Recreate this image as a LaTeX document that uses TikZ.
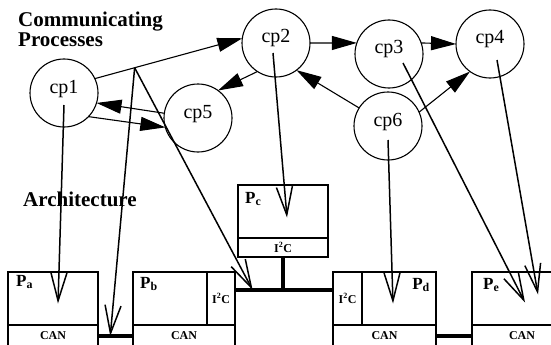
\documentclass[tikz,border=0pt]{standalone}
\usepackage{fontspec}
\setmainfont{Liberation Serif}
\usepackage{tikz}
\usetikzlibrary{arrows.meta, positioning}

\begin{document}
\begin{tikzpicture}[
    x=1pt, y=-1pt,
    proc/.style={circle, draw, line width=1.1pt, minimum size=68pt, inner sep=0pt, outer sep=0pt, font=\fontsize{20}{24}\selectfont, text height=5pt, text depth=5pt},
    unit/.style={rectangle, draw, line width=1.8pt, inner sep=0pt, outer sep=0pt, anchor=north west, font=\fontsize{12}{14}\selectfont\bfseries},
    plabel/.style={inner sep=0pt, font=\fontsize{17}{20}\selectfont\bfseries},
    heading/.style={inner sep=0pt, align=left, font=\fontsize{21}{17}\selectfont\bfseries},
    comm/.style={-{Triangle[length=25pt, width=14pt]}, line width=1.1pt},
    map/.style={-{Straight Barb[length=28pt, width=16pt]}, line width=1.5pt},
    bus/.style={line width=4.5pt}
  ]

    \useasboundingbox (0,0) rectangle (551,345);
    \clip (0,0) rectangle (551,345);

    \node[heading, anchor=north west] (title) at (18,12) {Communicating\\Processes};
    \node[heading, anchor=base west] (archi) at (23,206) {Architecture};

    \node[proc] (cp1) at (64,93) {cp1};
    \node[proc] (cp2) at (276,43) {cp2};
    \node[proc] (cp3) at (389,54) {cp3};
    \node[proc] (cp4) at (490,44) {cp4};
    \node[proc] (cp5) at (198,118) {cp5};
    \node[proc] (cp6) at (388,126) {cp6};

    \node[unit, minimum width=90pt, minimum height=53pt] (pa) at (8,272) {};
    \node[unit, minimum width=90pt, minimum height=22pt, below=0pt of pa] (pacan) {CAN};
    \node[unit, minimum width=74pt, minimum height=53pt] (pb) at (133,272) {};
    \node[unit, minimum width=28pt, minimum height=53pt, right=0pt of pb] (pbi) {I\textsuperscript{2}C};
    \node[unit, minimum width=102pt, minimum height=22pt, below right=0pt of pb.south west] (pbcan) {CAN};
    \node[unit, minimum width=90pt, minimum height=53pt] (pc) at (238,185) {};
    \node[unit, minimum width=90pt, minimum height=19pt, below=0pt of pc] (pci) {I\textsuperscript{2}C};
    \node[unit, minimum width=29pt, minimum height=53pt] (pdi) at (333,272) {I\textsuperscript{2}C};
    \node[unit, minimum width=74pt, minimum height=53pt, right=0pt of pdi] (pd) {};
    \node[unit, minimum width=103pt, minimum height=22pt, below right=0pt of pdi.south west] (pdcan) {CAN};
    \node[unit, minimum width=100pt, minimum height=53pt] (pe) at (472,272) {};
    \node[unit, minimum width=100pt, minimum height=22pt, below=0pt of pe] (pecan) {CAN};

    \node[plabel, anchor=north west] (pal) at ([xshift=8pt, yshift=-3pt]pa.north west) {P\textsubscript{a}};
    \node[plabel, anchor=north west] (pbl) at ([xshift=7pt, yshift=-5pt]pb.north west) {P\textsubscript{b}};
    \node[plabel, anchor=north west] (pcl) at ([xshift=7pt, yshift=-7pt]pc.north west) {P\textsubscript{c}};
    \node[plabel, anchor=north east] (pdl) at ([xshift=-6pt, yshift=-6pt]pd.north east) {P\textsubscript{d}};
    \node[plabel, anchor=north west] (pel) at ([xshift=11pt, yshift=-6pt]pe.north west) {P\textsubscript{e}};

    \draw[bus] (pacan.east) -- coordinate[pos=0.35] (canab) (pbcan.west);
    \draw[bus] (pdcan.east) -- (pecan.west);
    \draw[bus] (pci.south) -- ++(0,33) coordinate (tee);
    \draw[bus] (pbi.east |- tee) -- coordinate[pos=0.18] (i2ct) (pdi.west |- tee);

    \draw[comm] (cp1.25) -- coordinate[pos=0.27] (fork) (cp2.172);
    \draw[comm] (cp5.172) -- (cp1.-17);
    \draw[comm] (cp1.-44) -- (cp5.196);
    \draw[comm] (cp2.237) -- (cp5.54);
    \draw[comm] (cp2.east) -- (cp3.161);
    \draw[comm] (cp3.19) -- (cp4.west);
    \draw[comm] (cp6.148) -- (cp2.-53);
    \draw[comm] (cp6.24) -- (cp4.234);

    \draw[map] ([yshift=-12pt]cp1.center) -- ([xshift=5pt, yshift=-5pt]pa.center);
    \draw[map] (fork) -- (canab);
    \draw[map] (fork) -- (i2ct);
    \draw[map] ([xshift=-3pt, yshift=-10pt]cp2.center) -- ([xshift=4pt, yshift=-6pt]pc.center);
    \draw[map] ([yshift=-14pt]cp6.center) -- ([xshift=-6pt, yshift=-5pt]pd.center);
    \draw[map] ([xshift=14pt, yshift=-9pt]cp3.center) -- ([xshift=3pt, yshift=-4pt]pe.center);
    \draw[map] ([xshift=7pt, yshift=-16pt]cp4.center) -- ([xshift=16pt, yshift=4pt]pe.center);

  \end{tikzpicture}
\end{document}
